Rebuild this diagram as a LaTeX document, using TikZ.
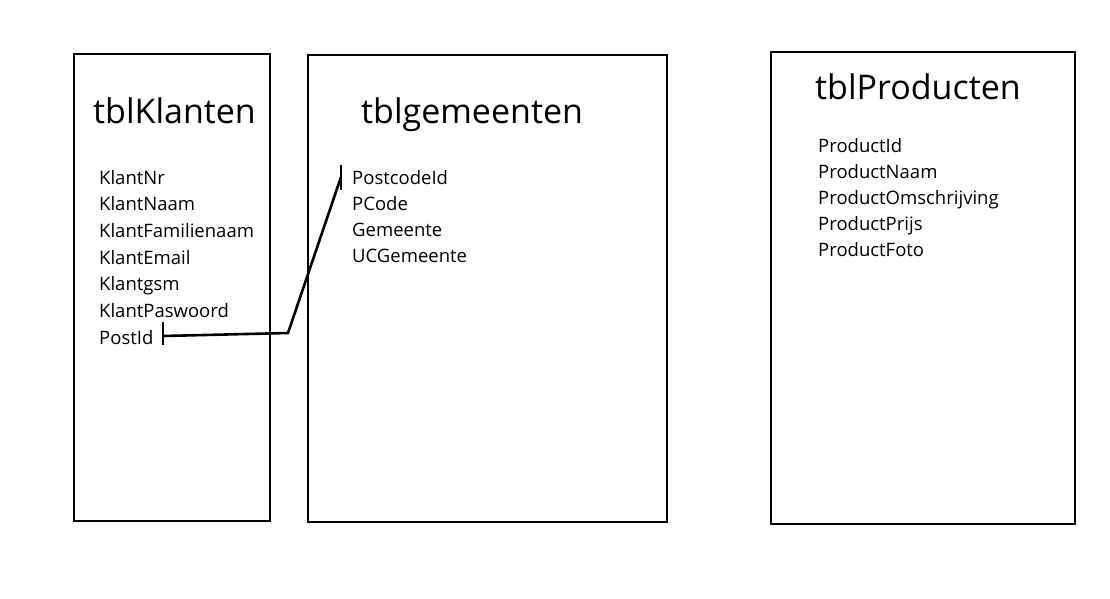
\documentclass[tikz,border=0pt]{standalone}
\usepackage{fontspec}
\setmainfont{Open Sans}
\usetikzlibrary{positioning}
\tikzset{
  tabel/.style={draw, line width=2.6pt, inner sep=0pt},
  titel/.style={anchor=base west, inner sep=0pt, font=\fontsize{34}{40}\selectfont},
  veld/.style={anchor=base west, inner sep=0pt, font=\fontsize{18.5}{22}\selectfont},
  link/.style={line width=2.6pt}
}
\begin{document}
\begin{tikzpicture}[x=1pt, y=-1pt]
    \useasboundingbox (0,0) rectangle (1110,599);
    % tabellen
    \node[tabel, minimum width=196pt, minimum height=467pt] (klanten) at (172,287.5) {};
    \node[tabel, minimum width=359pt, minimum height=467pt] (gemeenten) at (487.5,288.5) {};
    \node[tabel, minimum width=304pt, minimum height=472pt] (producten) at (923,288) {};
    \node[titel] (tklanten) at (93,124) {tblKlanten};
    \node[titel] (tgemeenten) at (361,124) {tblgemeenten};
    \node[titel] (tproducten) at (815,100) {tblProducten};
    % velden
    \foreach \naam [count=\i] in {KlantNr, KlantNaam, KlantFamilienaam, KlantEmail, Klantgsm, KlantPaswoord, PostId}
        \node[veld] (k\i) at (99, 184+26.7*\i-26.7) {\naam};
    \foreach \naam [count=\i] in {PostcodeId, PCode, Gemeente, UCGemeente}
        \node[veld] (g\i) at (352, 184+26*\i-26) {\naam};
    \foreach \naam [count=\i] in {ProductId, ProductNaam, ProductOmschrijving, ProductPrijs, ProductFoto}
        \node[veld] (p\i) at (818, 152+26*\i-26) {\naam};
    % relatie PostId - PostcodeId
    \coordinate (van) at (163,336);
    \coordinate (knik) at (288,333);
    \coordinate (naar) at (341,177);
    \draw[link] (van) -- (knik) -- (naar);
    \draw[link] ([yshift=14pt]van) -- ([yshift=-9pt]van);
    \draw[link] ([yshift=12pt]naar) -- ([yshift=-13pt]naar);
\end{tikzpicture}
\end{document}
